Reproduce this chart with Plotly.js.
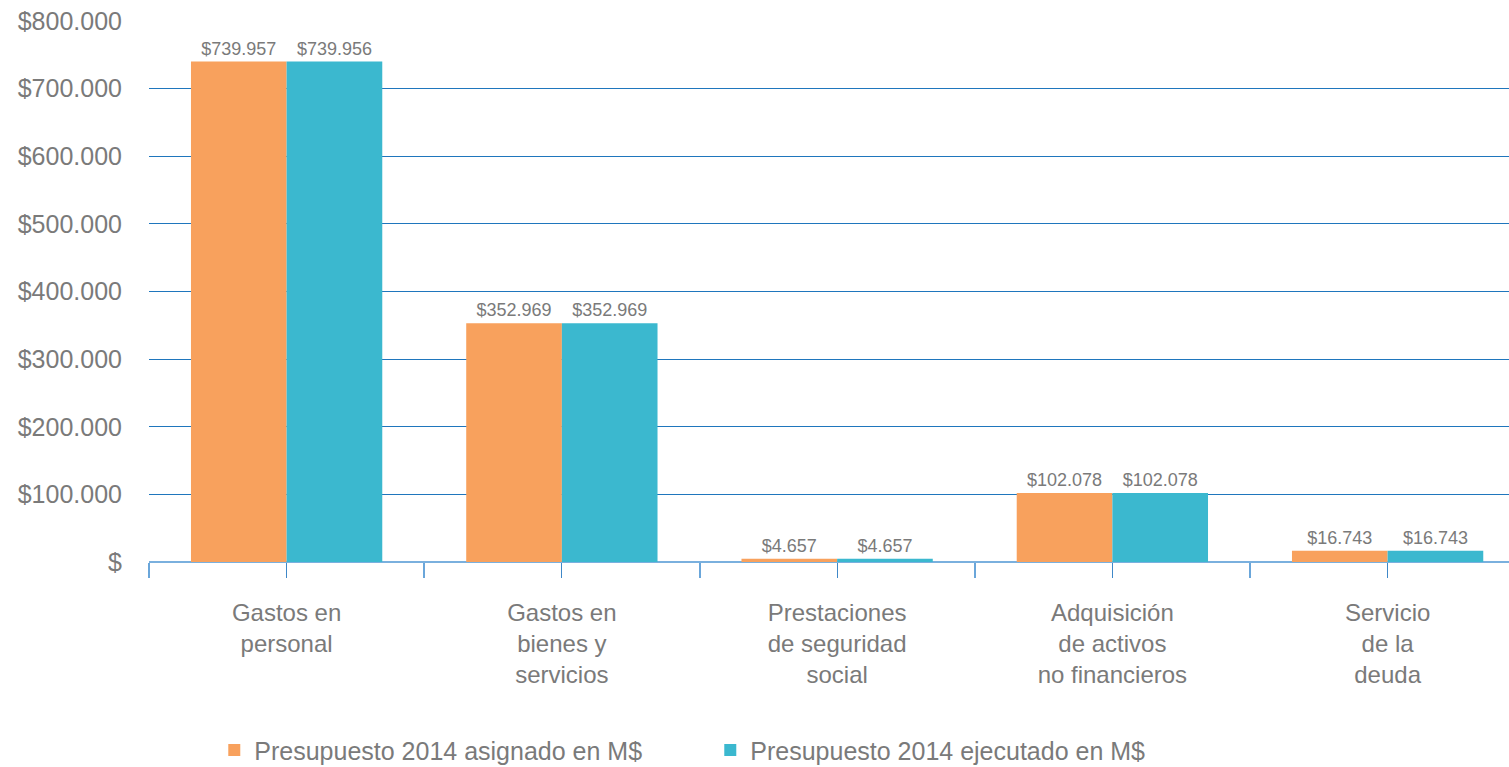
<!DOCTYPE html>
<html>
<head>
<meta charset="utf-8">
<script src="https://cdn.plot.ly/plotly-3.0.1.min.js"></script>
<style>html,body{margin:0;padding:0;background:#fff;}#chart{width:1509px;height:767px;}</style>
</head>
<body>
<div id="chart"></div>
<script>
const categories = ["Gastos en<br>personal", "Gastos en<br>bienes y<br>servicios", "Prestaciones<br>de seguridad<br>social", "Adquisición<br>de activos<br>no financieros", "Servicio<br>de la<br>deuda"];
const asignado = [739957, 352969, 4657, 102078, 16743];
const ejecutado = [739956, 352969, 4657, 102078, 16743];
const seriesNames = ["Presupuesto 2014 asignado en M$", "Presupuesto 2014 ejecutado en M$"];
const yTickVals = [0, 100000, 200000, 300000, 400000, 500000, 600000, 700000, 800000];
const yTickText = ["$", "$100.000", "$200.000", "$300.000", "$400.000", "$500.000", "$600.000", "$700.000", "$800.000"];

const idx = categories.map((c, i) => i);
const grey = "#7a7a7a";
const fontFam = "Liberation Sans, Arial, sans-serif";

const traces = [
  {type: "bar", name: seriesNames[0], x: idx, y: asignado, marker: {color: "#F8A15D"},
   texttemplate: "$%{y:,.0f}", textposition: "outside", cliponaxis: false,
   textfont: {size: 18, color: grey, family: fontFam}, hoverinfo: "y"},
  {type: "bar", name: seriesNames[1], x: idx, y: ejecutado, marker: {color: "#3BB8CF"},
   texttemplate: "$%{y:,.0f}", textposition: "outside", cliponaxis: false,
   textfont: {size: 18, color: grey, family: fontFam}, hoverinfo: "y"}
];

const layout = {
  width: 1509, height: 767,
  margin: {l: 149, r: 0, t: 21, b: 205, autoexpand: false},
  separators: ",.",
  font: {family: fontFam, color: grey},
  paper_bgcolor: "#fff", plot_bgcolor: "#fff",
  barmode: "group", bargap: 0.305, bargroupgap: 0,
  xaxis: {
    type: "linear", range: [-0.5, 4.441], fixedrange: true, automargin: false,
    tickvals: idx, ticktext: categories,
    ticks: "outside", ticklen: 15, tickcolor: "#3f88c8", tickwidth: 1,
    minor: {tick0: -0.5, dtick: 1, ticks: "outside", ticklen: 15, tickcolor: "#6aa6da", tickwidth: 2, showgrid: false},
    showgrid: false, zeroline: false, showline: false, ticklabelstandoff: 14,
    tickfont: {size: 24, color: grey, family: fontFam}
  },
  yaxis: {
    range: [0, 800000], fixedrange: true, automargin: false,
    tickvals: yTickVals, ticktext: yTickText,
    showgrid: true, gridcolor: "#1f76bd", gridwidth: 1,
    zeroline: true, zerolinecolor: "#7ab0de", zerolinewidth: 2,
    showline: false, ticks: "", ticklabelstandoff: 26,
    tickfont: {size: 25, color: grey, family: fontFam}
  },
  showlegend: true,
  legend: {
    orientation: "h", x: 0.048, xanchor: "left", yref: "container", y: 0.022, yanchor: "middle",
    font: {size: 25, color: grey, family: fontFam},
    entrywidth: 451, entrywidthmode: "pixels", itemwidth: 30
  }
};

Plotly.newPlot("chart", traces, layout, {displayModeBar: false, staticPlot: true});
</script>
</body>
</html>
